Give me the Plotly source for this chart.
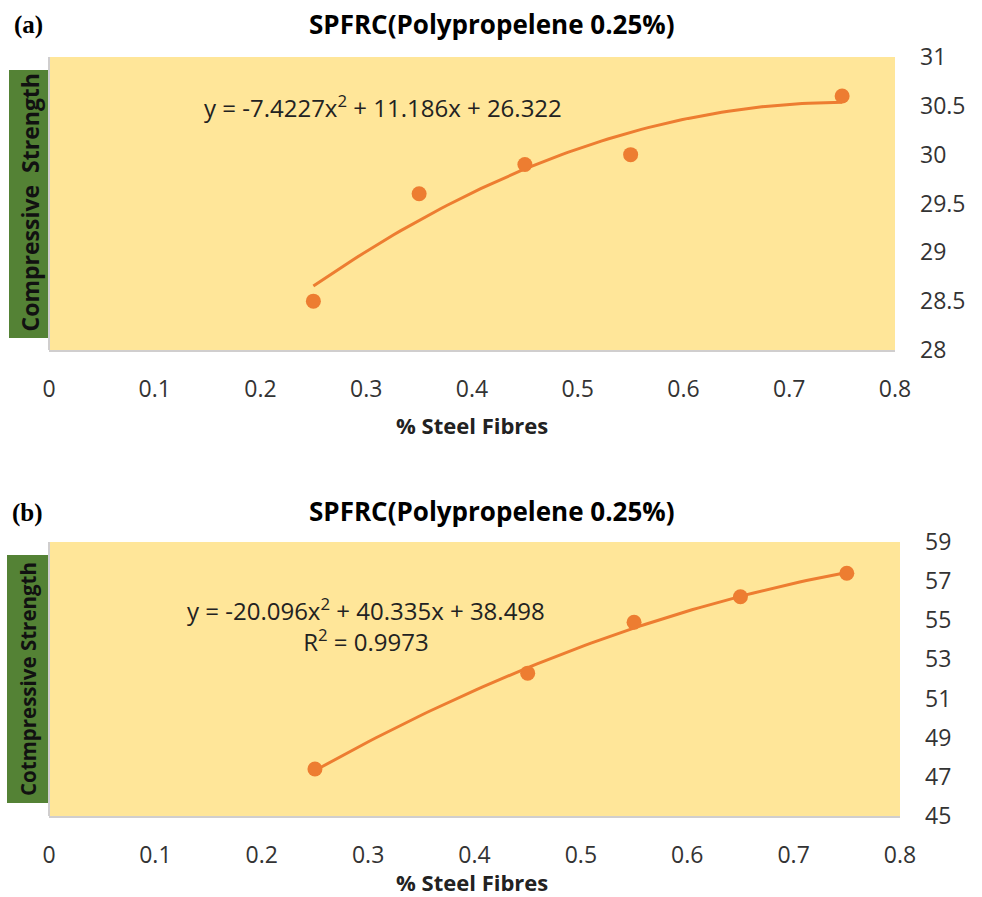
import numpy as np
import plotly.graph_objects as go

# ---- data ----
x_a = [0.25, 0.35, 0.45, 0.55, 0.75]
y_a = [28.5, 29.6, 29.9, 30.0, 30.6]
coef_a = [-7.4227, 11.186, 26.322]

x_b = [0.25, 0.45, 0.55, 0.65, 0.75]
y_b = [47.4, 52.3, 54.9, 56.2, 57.4]
coef_b = [-20.096, 40.335, 38.498]

x_ticks = [0, 0.1, 0.2, 0.3, 0.4, 0.5, 0.6, 0.7, 0.8]
y_ticks_a = [28, 28.5, 29, 29.5, 30, 30.5, 31]
y_ticks_b = [45, 47, 49, 51, 53, 55, 57, 59]

title_text = "SPFRC(Polypropelene 0.25%)"
xlabel = "% Steel Fibres"
ylabel_a = "Compressive  Strength"
ylabel_b = "Cotmpressive Strength"
eq_a = "y = -7.4227x<sup>2</sup> + 11.186x + 26.322"
eq_b = "y = -20.096x<sup>2</sup> + 40.335x + 38.498<br>R<sup>2</sup> = 0.9973"

ORANGE = "#ED7D31"
YELLOW = "#FFE699"
GREEN = "#548235"
FONT = "Open Sans"

W, H = 982, 897

def px(x):
    return x / W

def py(y):
    return 1 - y / H

fig = go.Figure()

def add_panel(xs, ys, coef, xa, ya):
    xt = np.linspace(min(xs), max(xs), 80)
    yt = np.polyval(coef, xt)
    fig.add_trace(go.Scatter(x=xt, y=yt, mode="lines", line=dict(color=ORANGE, width=3),
                             xaxis=xa, yaxis=ya, showlegend=False, hoverinfo="skip"))
    fig.add_trace(go.Scatter(x=xs, y=ys, mode="markers",
                             marker=dict(color=ORANGE, size=15),
                             xaxis=xa, yaxis=ya, showlegend=False))

add_panel(x_a, y_a, coef_a, "x", "y")
add_panel(x_b, y_b, coef_b, "x2", "y2")

tickfont = dict(family=FONT, size=23, color="#333333")

def xaxis(dom, anchor):
    return dict(domain=dom, anchor=anchor, range=[0, 0.8], tickvals=x_ticks,
                ticktext=[f"{v:g}" for v in x_ticks], showgrid=False, zeroline=False,
                showline=True, linecolor="#D0CECE", linewidth=2, ticks="",
                tickfont=tickfont, ticklabelstandoff=17, fixedrange=True, automargin=False)

def yaxis(dom, anchor, rng, tv):
    return dict(domain=dom, anchor=anchor, range=rng, tickvals=tv,
                ticktext=[f"{v:g}" for v in tv], side="right", showgrid=False,
                zeroline=False, showline=False, ticks="", tickfont=tickfont,
                ticklabelstandoff=24, fixedrange=True, automargin=False)

fig.update_layout(
    width=W, height=H,
    margin=dict(l=0, r=0, t=0, b=0, autoexpand=False),
    paper_bgcolor="white",
    plot_bgcolor=YELLOW,
    xaxis=xaxis([px(49), px(895)], "y"),
    yaxis=yaxis([py(350), py(57)], "x", [28, 31], y_ticks_a),
    xaxis2=xaxis([px(49), px(900)], "y2"),
    yaxis2=yaxis([py(816), py(542)], "x2", [45, 59], y_ticks_b),
)

shapes = []
# green y-label boxes
shapes.append(dict(type="rect", xref="paper", yref="paper", x0=px(9), x1=px(50),
                   y0=py(338), y1=py(70), fillcolor=GREEN, line=dict(width=0), layer="below"))
shapes.append(dict(type="rect", xref="paper", yref="paper", x0=px(7), x1=px(49),
                   y0=py(803), y1=py(555), fillcolor=GREEN, line=dict(width=0), layer="below"))
# light left border of plot areas
shapes.append(dict(type="line", xref="x domain", yref="y domain", x0=0, x1=0, y0=0, y1=1,
                   line=dict(color="#D0CECE", width=2)))
shapes.append(dict(type="line", xref="x2 domain", yref="y2 domain", x0=0, x1=0, y0=0, y1=1,
                   line=dict(color="#D0CECE", width=2)))
fig.update_layout(shapes=shapes)

ann = []
# panel labels
ann.append(dict(text="<b>(a)</b>", x=px(12), y=py(25), xref="paper", yref="paper",
                xanchor="left", yanchor="middle", showarrow=False,
                font=dict(family="Liberation Serif", size=25, color="black")))
ann.append(dict(text="<b>(b)</b>", x=px(10), y=py(513), xref="paper", yref="paper",
                xanchor="left", yanchor="middle", showarrow=False,
                font=dict(family="Liberation Serif", size=25, color="black")))
# titles
for yy in (24, 511):
    ann.append(dict(text=f"<b>{title_text}</b>", x=px(492), y=py(yy), xref="paper", yref="paper",
                    xanchor="center", yanchor="middle", showarrow=False,
                    font=dict(family=FONT, size=26, color="black")))
# x-axis titles
for yy in (425, 882):
    ann.append(dict(text=f"<b>{xlabel}</b>", x=px(472), y=py(yy), xref="paper", yref="paper",
                    xanchor="center", yanchor="middle", showarrow=False,
                    font=dict(family=FONT, size=22, color="#222222")))
# y labels
ann.append(dict(text=f"<b>{ylabel_a}</b>", x=px(29.5), y=py(203), xref="paper", yref="paper",
                xanchor="center", yanchor="middle", textangle=-90, showarrow=False,
                font=dict(family=FONT, size=23, color="#111111")))
ann.append(dict(text=f"<b>{ylabel_b}</b>", x=px(28), y=py(679), xref="paper", yref="paper",
                xanchor="center", yanchor="middle", textangle=-90, showarrow=False,
                font=dict(family=FONT, size=20.5, color="#111111")))
# equations
ann.append(dict(text=eq_a, x=px(383), y=py(106), xref="paper", yref="paper",
                xanchor="center", yanchor="middle", showarrow=False,
                font=dict(family=FONT, size=24, color="#222222")))
ann.append(dict(text=eq_b, x=px(366), y=py(625), xref="paper", yref="paper",
                xanchor="center", yanchor="middle", align="center", showarrow=False,
                font=dict(family=FONT, size=24, color="#222222")))
fig.update_layout(annotations=ann)

fig.write_html("out.html", config={"displayModeBar": False},
               post_script="document.body.style.margin='0px';document.body.style.overflow='hidden';")
